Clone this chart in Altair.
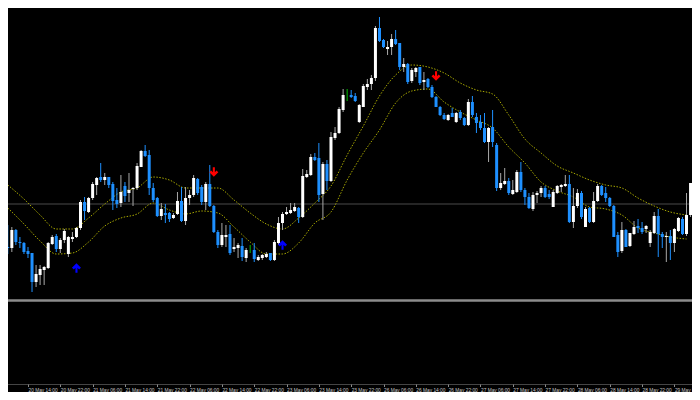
import json
import altair as alt
import pandas as pd

# ---- candle data (H1 bars, price levels in points) ----
OPEN = [53, 52, 70, 58, 57, 49, 47, 18, 25, 30, 32, 56, 64, 51, 60, 46, 61, 63, 72, 98,
        88, 102, 115, 123, 120, 123, 116, 100, 97, 114, 107, 111, 112, 133, 149, 145, 112, 102, 84, 87,
        87, 82, 86, 99, 79, 102, 105, 121, 113, 98, 116, 94, 68, 55, 63, 66, 51, 52, 54, 42,
        50, 50, 40, 42, 43, 47, 40, 57, 77, 86, 87, 89, 92, 83, 123, 125, 143, 142, 106, 136,
        119, 162, 167, 190, 204, 205, 204, 178, 193, 213, 216, 222, 272, 260, 251, 253, 261, 257, 233, 236,
        219, 228, 233, 218, 221, 213, 203, 193, 185, 180, 187, 178, 188, 182, 175, 198, 183, 178, 172, 158,
        173, 155, 112, 116, 119, 106, 108, 128, 110, 103, 91, 105, 107, 112, 106, 93, 107, 113, 114, 116,
        78, 94, 107, 73, 92, 78, 99, 114, 107, 102, 94, 65, 49, 70, 54, 66, 74, 72, 71, 57,
        67, 84, 66, 63, 64, 57, 69, 81, 66, 85]
HIGH = [75, 73, 71, 63, 58, 53, 47, 35, 35, 34, 58, 65, 66, 62, 71, 64, 68, 73, 100, 103,
        103, 118, 123, 137, 127, 123, 118, 112, 125, 118, 127, 113, 137, 150, 155, 150, 117, 103, 97, 96,
        88, 87, 108, 113, 113, 110, 125, 122, 115, 118, 135, 95, 70, 77, 75, 75, 62, 57, 62, 52,
        55, 57, 45, 46, 48, 47, 60, 83, 88, 93, 97, 97, 93, 131, 130, 146, 147, 157, 138, 140,
        168, 173, 193, 211, 211, 210, 207, 196, 216, 221, 225, 274, 283, 261, 259, 266, 270, 257, 242, 237,
        232, 233, 233, 228, 222, 215, 204, 194, 187, 186, 192, 188, 190, 183, 201, 204, 187, 185, 187, 173,
        190, 157, 127, 132, 122, 120, 130, 138, 112, 107, 108, 109, 114, 114, 110, 110, 115, 116, 125, 125,
        112, 111, 109, 93, 93, 108, 116, 115, 113, 103, 95, 68, 78, 71, 67, 79, 81, 78, 75, 70,
        88, 91, 68, 68, 70, 72, 83, 83, 107, 117]
LOW = [46, 48, 55, 52, 46, 42, 8, 13, 15, 15, 31, 55, 48, 47, 57, 43, 58, 62, 70, 80,
       87, 100, 105, 118, 115, 112, 90, 92, 93, 98, 98, 94, 110, 133, 143, 105, 98, 83, 80, 77,
       78, 81, 85, 78, 75, 95, 103, 105, 95, 90, 93, 67, 52, 53, 53, 45, 48, 42, 39, 38,
       47, 38, 39, 40, 42, 39, 39, 55, 70, 85, 86, 88, 77, 82, 122, 124, 139, 98, 80, 110,
       118, 160, 166, 188, 199, 202, 198, 177, 193, 210, 210, 219, 258, 252, 245, 245, 255, 230, 228, 216,
       217, 223, 215, 210, 212, 202, 193, 184, 180, 179, 183, 177, 180, 174, 174, 183, 167, 170, 157, 138,
       153, 109, 110, 115, 105, 105, 107, 108, 95, 91, 89, 97, 103, 102, 101, 93, 106, 108, 113, 77,
       72, 92, 81, 73, 77, 77, 98, 104, 98, 93, 63, 43, 47, 53, 53, 65, 67, 66, 67, 53,
       66, 43, 52, 38, 40, 48, 68, 65, 64, 83]
CLOSE = [52, 70, 58, 57, 48, 46, 18, 26, 31, 33, 57, 63, 51, 60, 69, 63, 63, 72, 98, 89,
         102, 116, 122, 120, 123, 115, 99, 96, 108, 104, 110, 112, 134, 149, 144, 112, 100, 84, 91, 85,
         81, 85, 99, 79, 102, 105, 122, 107, 98, 116, 94, 68, 55, 65, 65, 47, 53, 55, 43, 50,
         50, 41, 43, 45, 46, 40, 58, 77, 86, 88, 90, 93, 83, 124, 126, 143, 140, 105, 136, 119,
         163, 167, 191, 205, 204, 203, 199, 195, 214, 216, 222, 272, 259, 253, 253, 261, 256, 233, 236, 218,
         230, 232, 217, 220, 213, 203, 193, 185, 181, 185, 183, 187, 182, 175, 198, 185, 177, 172, 158, 172,
         158, 112, 117, 119, 107, 110, 128, 110, 103, 92, 105, 107, 112, 103, 103, 108, 114, 115, 116, 78,
         94, 107, 83, 91, 78, 99, 114, 105, 102, 94, 63, 48, 70, 53, 67, 73, 72, 68, 74, 68,
         84, 66, 63, 64, 57, 71, 82, 66, 85, 117]

# ---- channel bands (sampled every 4 bars) ----
BAND_BARS = list(range(0, 169, 4))
UPPER = [115, 101, 85, 71, 71, 82, 96, 108, 112, 123, 120, 112, 112, 112, 100, 87, 76, 71, 82, 97,
         114, 145, 174, 204, 225, 235, 233, 227, 217, 210, 206, 185, 161, 147, 134, 127, 120, 115, 112, 102,
         94, 88, 85]
LOWER = [92, 76, 59, 46, 47, 58, 74, 82, 86, 97, 90, 86, 89, 87, 73, 58, 46, 46, 57, 77,
         88, 120, 147, 170, 197, 209, 211, 198, 188, 180, 172, 153, 137, 118, 109, 103, 93, 91, 85, 72,
         67, 63, 61]

# ---- signal arrows ----
ARROW_UP_BARS = [17, 68]
ARROW_UP_LEVELS = [32, 55]
ARROW_DN_BARS = [51, 106]
ARROW_DN_LEVELS = [128, 224]

# ---- horizontal lines ----
H_LINE_LEVEL = [96]
SEPARATOR_LEVEL = [-0.5]

# ---- time axis ----
TICK_BARS = [5 + 8 * k for k in range(21)]
TICK_LABELS = ["20 May 14:00", "20 May 22:00", "21 May 06:00", "21 May 14:00", "21 May 22:00",
               "22 May 06:00", "22 May 14:00", "22 May 22:00", "23 May 06:00", "23 May 14:00",
               "23 May 22:00", "26 May 06:00", "26 May 14:00", "26 May 22:00", "27 May 06:00",
               "27 May 14:00", "27 May 22:00", "28 May 06:00", "28 May 14:00", "28 May 22:00",
               "29 May 06:00"]

BULL, BEAR, DOJI = "#ffffff", "#1e90ff", "#00c000"
WICK_BULL, WICK_BEAR = "#a8a8a8", "#1e90ff"

n = len(OPEN)
candles = pd.DataFrame({"bar": list(range(n)), "open": OPEN, "high": HIGH,
                        "low": LOW, "close": CLOSE})
candles["body_color"] = [BULL if c > o else (BEAR if c < o else DOJI)
                         for o, c in zip(OPEN, CLOSE)]
candles["wick_color"] = [WICK_BULL if c > o else (WICK_BEAR if c < o else DOJI)
                         for o, c in zip(OPEN, CLOSE)]

bands = pd.DataFrame({"bar": BAND_BARS, "upper": UPPER, "lower": LOWER})
ups = pd.DataFrame({"bar": ARROW_UP_BARS, "level": ARROW_UP_LEVELS})
dns = pd.DataFrame({"bar": ARROW_DN_BARS, "level": ARROW_DN_LEVELS})

W, H = 684, 376
xscale = alt.Scale(domain=[1.29, 1.29 + W / 4.1], nice=False, zero=False)
yscale = alt.Scale(domain=[292 - H, 292], nice=False, zero=False)

label_expr = f"{json.dumps(TICK_LABELS)}[indexof({json.dumps(TICK_BARS)}, datum.value)]"
xaxis = alt.Axis(values=TICK_BARS, labelExpr=label_expr, labelAlign="left", labelFlush=False,
                 labelOverlap=False, labelBound=False, labelFont="Liberation Sans",
                 labelFontSize=4.8, labelColor="#c8c8c8", labelPadding=1,
                 tickSize=2.5, tickColor="#8a8a8a", domainColor="#8a8a8a", domainDash=[1, 1],
                 grid=False, title=None)

X = alt.X("bar:Q", scale=xscale, axis=xaxis)

hline = alt.Chart(pd.DataFrame({"level": H_LINE_LEVEL})).mark_rule(
    color="#4a4a4a", strokeWidth=1).encode(y=alt.Y("level:Q", scale=yscale, axis=None))
sep = alt.Chart(pd.DataFrame({"level": SEPARATOR_LEVEL})).mark_rule(
    color="#8c8c8c", strokeWidth=2.5).encode(y=alt.Y("level:Q", scale=yscale, axis=None))

upper = alt.Chart(bands).mark_line(color="#a8a800", strokeWidth=1, strokeDash=[1.5, 1.5],
                                   interpolate="monotone", clip=True).encode(
    x=X, y=alt.Y("upper:Q", scale=yscale, axis=None))
lower = alt.Chart(bands).mark_line(color="#a8a800", strokeWidth=1, strokeDash=[1.5, 1.5],
                                   interpolate="monotone", clip=True).encode(
    x=X, y=alt.Y("lower:Q", scale=yscale, axis=None))

wicks = alt.Chart(candles).mark_rule(strokeWidth=1, clip=True).encode(
    x=X, y=alt.Y("low:Q", scale=yscale, axis=None), y2="high:Q",
    color=alt.Color("wick_color:N", scale=None))
bodies = alt.Chart(candles).mark_bar(size=3, clip=True).encode(
    x=X, y=alt.Y("open:Q", scale=yscale, axis=None), y2="close:Q",
    color=alt.Color("body_color:N", scale=None))

UP_PATH = "M0,-1 L0.95,-0.05 L0.55,0.3 L0.22,-0.05 L0.22,1 L-0.22,1 L-0.22,-0.05 L-0.55,0.3 L-0.95,-0.05 Z"
DN_PATH = "M0,1 L0.95,0.05 L0.55,-0.3 L0.22,0.05 L0.22,-1 L-0.22,-1 L-0.22,0.05 L-0.55,-0.3 L-0.95,0.05 Z"

up_arrows = alt.Chart(ups).mark_point(shape=UP_PATH, size=90, filled=True, opacity=1,
                                      color="#0000ff", strokeWidth=0, clip=True).encode(
    x=X, y=alt.Y("level:Q", scale=yscale, axis=None))
dn_arrows = alt.Chart(dns).mark_point(shape=DN_PATH, size=90, filled=True, opacity=1,
                                      color="#ff0000", strokeWidth=0, clip=True).encode(
    x=X, y=alt.Y("level:Q", scale=yscale, axis=None))

chart = alt.layer(hline, sep, upper, lower, wicks, bodies, up_arrows, dn_arrows).properties(
    width=W, height=H,
    autosize=alt.AutoSizeParams(type="none"),
    padding={"left": 0, "top": 0, "right": 0, "bottom": 8},
    background="black",
).configure_view(stroke=None, fill="black")

chart.save("out.html", embed_options={"renderer": "svg", "actions": False})
